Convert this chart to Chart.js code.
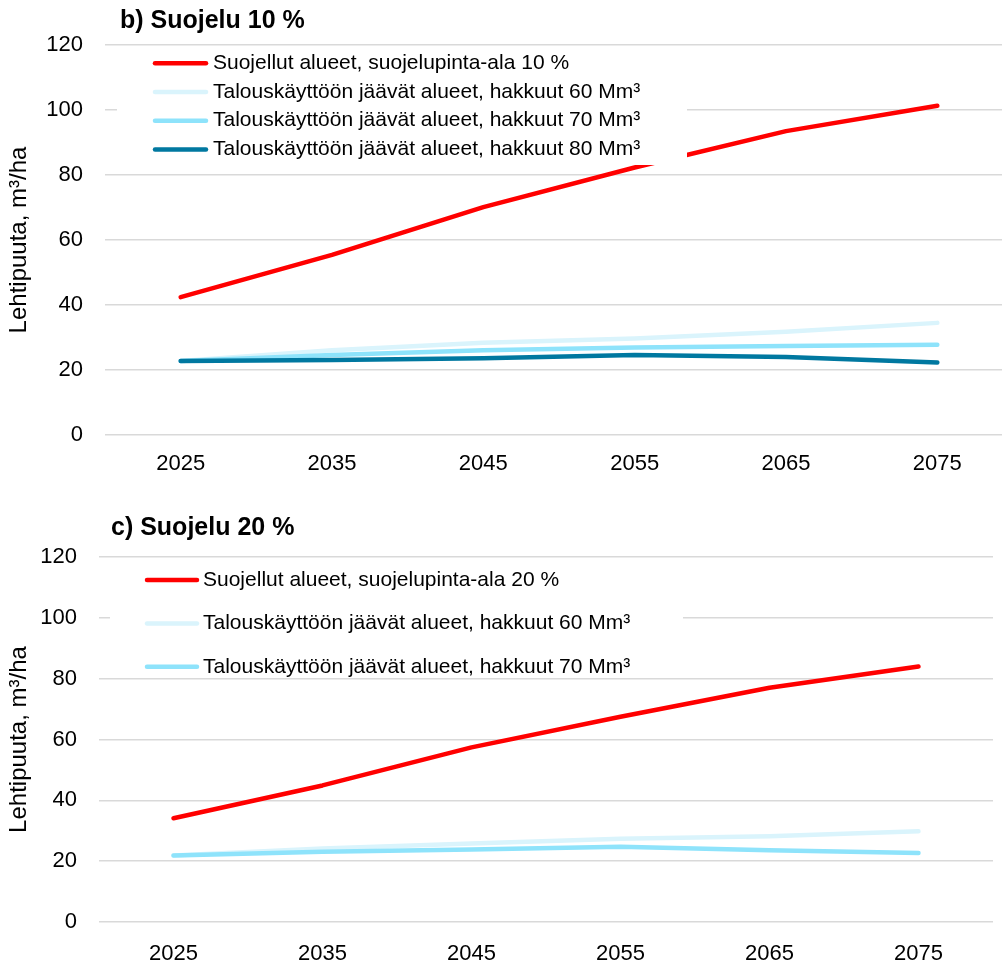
<!DOCTYPE html>
<html>
<head>
<meta charset="utf-8">
<script src="https://cdn.jsdelivr.net/npm/chart.js@4.4.1/dist/chart.umd.min.js"></script>
<style>
  html, body { margin: 0; padding: 0; background: #fff; overflow: hidden; width: 1002px; height: 963px; }
  canvas { position: absolute; left: 0; }
  #chartB { top: 0; }
  #chartC { top: 490px; }
</style>
</head>
<body>
<canvas id="chartB" width="1013" height="490"></canvas>
<canvas id="chartC" width="1002" height="480"></canvas>
<script>
// x axis categories
var years = ['2025', '2035', '2045', '2055', '2065', '2075'];

// b) Suojelu 10 %
var labelsB = [
  'Suojellut alueet, suojelupinta-ala 10 %',
  'Talouskäyttöön jäävät alueet, hakkuut 60 Mm³',
  'Talouskäyttöön jäävät alueet, hakkuut 70 Mm³',
  'Talouskäyttöön jäävät alueet, hakkuut 80 Mm³'
];
var protected10 = [42.4, 55.4, 70.1, 82.3, 93.5, 101.3];
var cut60B = [22.8, 26.1, 28.4, 29.7, 31.8, 34.5];
var cut70B = [22.8, 24.6, 26.1, 26.9, 27.4, 27.8];
var cut80B = [22.8, 23.1, 23.6, 24.6, 24.0, 22.3];

// c) Suojelu 20 %
var labelsC = [
  'Suojellut alueet, suojelupinta-ala 20 %',
  'Talouskäyttöön jäävät alueet, hakkuut 60 Mm³',
  'Talouskäyttöön jäävät alueet, hakkuut 70 Mm³'
];
var protected20 = [34.1, 44.9, 57.4, 67.5, 77.0, 84.0];
var cut60C = [21.9, 24.2, 25.8, 27.4, 28.2, 29.8];
var cut70C = [21.9, 23.1, 23.8, 24.7, 23.6, 22.7];

var colors = ['#FF0000', '#DAF4FC', '#8EE3FB', '#0078A0'];
var yTitle = 'Lehtipuuta, m³/ha';

Chart.defaults.font.family = '"Liberation Sans", Arial, sans-serif';
Chart.defaults.color = '#000';

//-----------------------------------
// legend box + panel title, drawn on top of the lines
//-----------------------------------
var legendBox = {
  id: 'legendBox',
  afterDatasetsDraw: function (chart, args, opts) {
    var ctx = chart.ctx;
    ctx.save();
    ctx.fillStyle = '#fff';
    ctx.fillRect(opts.box[0], opts.box[1], opts.box[2] - opts.box[0], opts.box[3] - opts.box[1]);
    ctx.font = '21px "Liberation Sans", Arial, sans-serif';
    ctx.textBaseline = 'middle';
    ctx.lineCap = 'round';
    chart.data.datasets.forEach(function (ds, i) {
      var y = opts.firstRow + i * opts.rowGap;
      ctx.strokeStyle = ds.borderColor;
      ctx.lineWidth = 4.5;
      ctx.beginPath();
      ctx.moveTo(opts.lineX[0], y);
      ctx.lineTo(opts.lineX[1], y);
      ctx.stroke();
      ctx.fillStyle = '#000';
      ctx.fillText(ds.label, opts.textX, y);
    });
    ctx.font = 'bold 25px "Liberation Sans", Arial, sans-serif';
    ctx.fillText(opts.title, opts.titleX, opts.titleY);
    ctx.restore();
  }
};

function makeDatasets(labels, series) {
  var sets = [];
  for (var i = 0; i < series.length; i++) {
    sets.push({
      label: labels[i],
      data: series[i],
      borderColor: colors[i],
      backgroundColor: colors[i],
      borderWidth: 4.5,
      pointRadius: 0,
      tension: 0,
      borderCapStyle: 'round',
      borderJoinStyle: 'round',
      order: series.length - i //later series on top
    });
  }
  return sets;
}

function makeConfig(labels, series, s) {
  return {
    type: 'line',
    data: { labels: years, datasets: makeDatasets(labels, series) },
    options: {
      responsive: false,
      animation: false,
      layout: { padding: { top: s.top, right: s.right, left: 0, bottom: 0 } },
      plugins: {
        legend: { display: false },
        tooltip: { enabled: false },
        legendBox: s.legend
      },
      scales: {
        x: {
          type: 'category',
          offset: true,
          grid: { display: false },
          border: { display: false },
          ticks: { font: { size: 22 }, padding: s.xPad, maxRotation: 0 },
          afterFit: function (scale) { scale.height = s.xHeight; }
        },
        y: {
          min: 0,
          max: 120,
          grid: { color: '#D9D9D9', lineWidth: 1.5, drawTicks: false },
          border: { display: false },
          ticks: { stepSize: 20, font: { size: 22 }, padding: 22 },
          title: { display: true, text: yTitle, font: { size: 24 }, padding: { top: 5, bottom: 0 } },
          afterFit: function (scale) { scale.width = s.yWidth; }
        }
      }
    },
    plugins: [legendBox]
  };
}

new Chart(document.getElementById('chartB'), makeConfig(labelsB,
  [protected10, cut60B, cut70B, cut80B], {
    top: 45, right: 0, xPad: 8, xHeight: 55, yWidth: 105,
    legend: {
      title: 'b) Suojelu 10 %', titleX: 120, titleY: 21,
      box: [117, 47, 687, 165],
      firstRow: 63.3, rowGap: 28.7, lineX: [155, 206], textX: 213
    }
  }));

new Chart(document.getElementById('chartC'), makeConfig(labelsC,
  [protected20, cut60C, cut70C], {
    top: 67, right: 9, xPad: 11, xHeight: 48, yWidth: 99,
    legend: {
      title: 'c) Suojelu 20 %', titleX: 111, titleY: 38,
      box: [110, 70, 683, 185],
      firstRow: 90, rowGap: 43.4, lineX: [147, 197], textX: 203
    }
  }));
</script>
</body>
</html>
